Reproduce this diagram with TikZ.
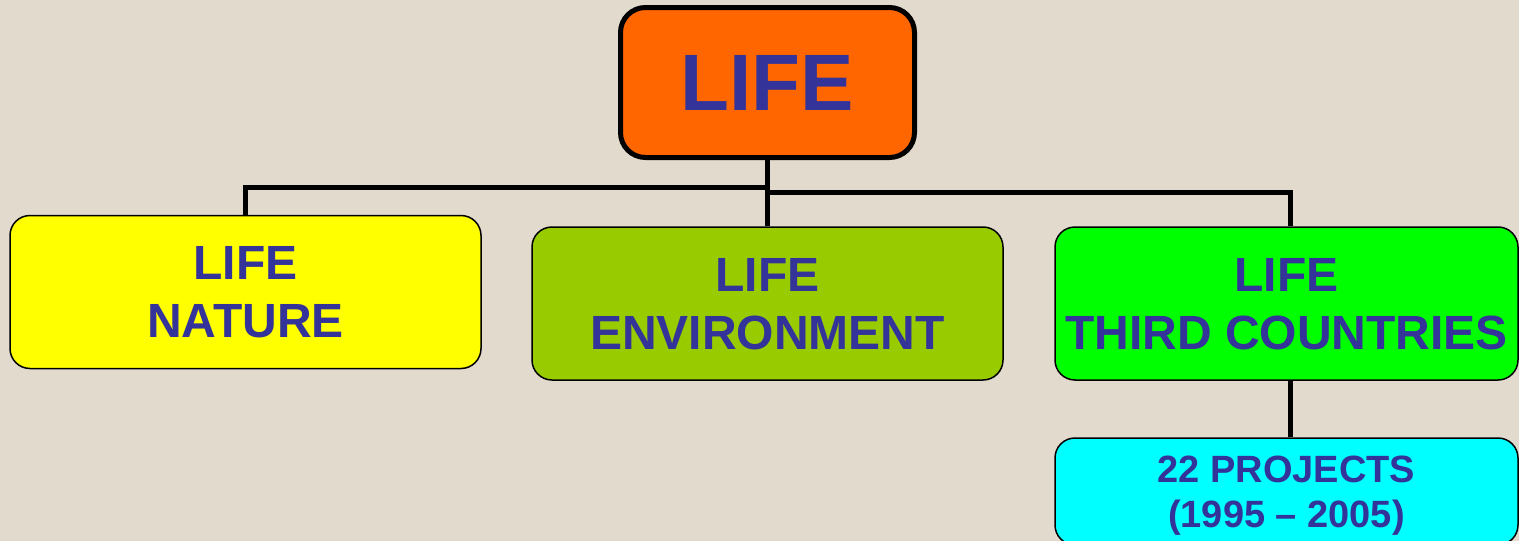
\documentclass[tikz,border=0pt]{standalone}
\usepackage{fontspec}
\setmainfont{Liberation Sans}
\definecolor{bgbeige}{HTML}{E2DACC}
\definecolor{txtblue}{HTML}{333399}
\definecolor{toporange}{HTML}{FF6600}
\definecolor{natyellow}{HTML}{FFFF00}
\definecolor{envgreen}{HTML}{99CC00}
\definecolor{thirdgreen}{HTML}{00FF00}
\definecolor{projcyan}{HTML}{00FFFF}
\begin{document}
\begin{tikzpicture}[x=1pt,y=-1pt,
  box/.style={draw=black,line width=1.5pt,rounded corners=20pt,minimum width=471pt,minimum height=153pt,
    align=center,text=txtblue,font=\fontsize{48}{58}\selectfont\bfseries,inner sep=0pt,
    text depth=0pt},
  conn/.style={draw=black,line width=5pt,line join=miter}]
\fill[bgbeige] (0,0) rectangle (1519,541);
\useasboundingbox (0,0) rectangle (1519,541);
\node[draw=black,line width=5pt,rounded corners=25pt,fill=toporange,minimum width=294pt,minimum height=150pt,
  text=txtblue,font=\fontsize{80}{96}\selectfont\bfseries,inner sep=0pt] (top) at (767.5,82.5) {LIFE};
\node[box,fill=natyellow] (nature) at (245.5,292) {LIFE\\NATURE};
\node[box,fill=envgreen] (env) at (767.5,303.5) {LIFE\\ENVIRONMENT};
\node[box,fill=thirdgreen,minimum width=463pt] (third) at (1286.5,303.5) {LIFE\\THIRD COUNTRIES};
\node[box,fill=projcyan,minimum width=463pt,minimum height=107pt,font=\fontsize{38}{45}\selectfont\bfseries] (proj) at (1286.5,491.5) {22 PROJECTS\\(1995 – 2005)};
\coordinate (jl) at (768,187);
\coordinate (jr) at (768,192);
\draw[conn] (top.south) -- (env.north);
\draw[conn] (nature.north) |- (jl);
\draw[conn] ([xshift=3.5pt]third.north) |- (jr);
\draw[conn] ([xshift=3.5pt]third.south) -- ([xshift=3.5pt]proj.north);
\end{tikzpicture}
\end{document}
